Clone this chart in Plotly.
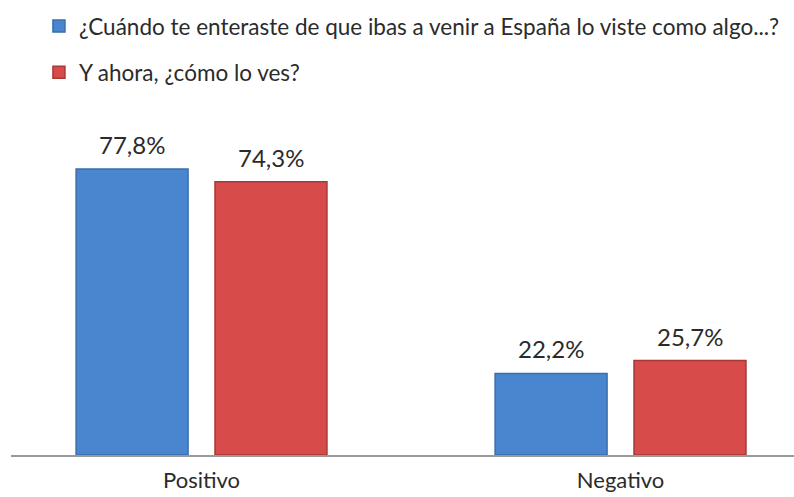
import plotly.graph_objects as go

categories = ["Positivo", "Negativo"]
series_names = [
    "¿Cuándo te enteraste de que ibas a venir a España lo viste como algo...?",
    "Y ahora, ¿cómo lo ves?",
]
antes = [77.8, 22.2]
ahora = [74.3, 25.7]

FONT = "Lato, Calibri, 'Open Sans', sans-serif"
TXT = "#2b2b2b"
fills = ["#4A86CF", "#D74B4A"]
borders = ["#3A6DAA", "#A83836"]

fig = go.Figure()
for i, (name, vals) in enumerate(zip(series_names, [antes, ahora])):
    fig.add_trace(go.Bar(
        x=categories, y=vals, name=name,
        marker=dict(color=fills[i], line=dict(color=borders[i], width=1.5)),
        legendgroup=f"g{i}",
    ))

BAR_OFF = 0.1657
for i, vals in enumerate([antes, ahora]):
    for j, v in enumerate(vals):
        fig.add_annotation(
            x=j + (BAR_OFF if i else -BAR_OFF), y=v, xref="x", yref="y",
            text=f"{v:.1f}%".replace(".", ","), showarrow=False,
            yanchor="bottom", yshift=8,
            font=dict(family=FONT, size=24, color=TXT),
        )

fig.update_layout(
    width=794, height=497,
    margin=dict(l=11, r=0, t=110, b=42),
    paper_bgcolor="white", plot_bgcolor="white",
    barmode="group", bargap=0.337, bargroupgap=0.194,
    font=dict(family=FONT, size=22, color=TXT),
    legend=dict(
        x=0.0357, y=0.99, xref="paper", yref="container", xanchor="left", yanchor="top",
        orientation="v", tracegroupgap=14,
        font=dict(family=FONT, size=22.5, color=TXT),
        itemwidth=30,
    ),
    xaxis=dict(
        range=[-0.4547, 1.414], showline=True, linecolor="#9A9A9A", linewidth=2,
        ticks="", ticklabelstandoff=5, automargin=False,
        tickfont=dict(family=FONT, size=22, color=TXT), showgrid=False,
    ),
    yaxis=dict(range=[0, 93.85], visible=False, showgrid=False, zeroline=False,
               automargin=False),
)

fig.write_html(
    "out.html",
    config={"displayModeBar": False},
    post_script="document.body.style.margin='0';document.body.style.padding='0';",
)
